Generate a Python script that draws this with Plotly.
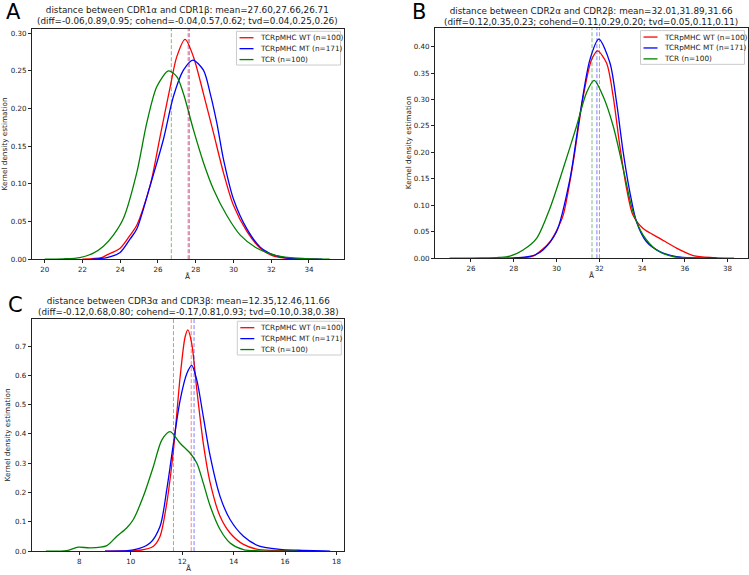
import plotly.graph_objects as go

W, H = 749, 575

# ---------------- data ----------------
series_names = ["TCRpMHC WT (n=100)", "TCRpMHC MT (n=171)", "TCR (n=100)"]
series_colors = ["#ff0000", "#0000ff", "#008000"]

# Panel A: CDR1
a_wt_x = [22.0, 23.0, 23.3, 24.0, 24.53, 24.88, 25.59, 26.12, 26.65, 27.0, 27.44, 27.88, 28.41, 28.94, 29.47, 30.0, 30.72, 31.42, 32.13, 33.0, 34.5]
a_wt_y = [0.0, 0.002, 0.0057, 0.0145, 0.032, 0.045, 0.098, 0.1635, 0.229, 0.269, 0.292, 0.269, 0.22, 0.168, 0.115, 0.0715, 0.0365, 0.0145, 0.004, 0.001, 0.0]
a_mt_x = [22.5, 23.3, 24.0, 24.53, 24.88, 25.59, 26.29, 26.82, 27.35, 27.85, 28.41, 28.77, 29.12, 29.47, 30.0, 30.72, 31.42, 32.13, 33.0, 34.7]
a_mt_y = [0.0, 0.002, 0.009, 0.027, 0.04, 0.098, 0.159, 0.216, 0.251, 0.2645, 0.251, 0.22, 0.181, 0.133, 0.08, 0.04, 0.016, 0.0057, 0.001, 0.0]
a_tcr_x = [20.0, 21.0, 21.87, 22.58, 23.1, 23.64, 24.17, 24.88, 25.41, 25.94, 26.56, 27.0, 27.35, 27.88, 28.41, 28.94, 29.65, 30.36, 31.25, 32.13, 33.0, 34.0, 35.1]
a_tcr_y = [0.0, 0.0005, 0.0022, 0.008, 0.0167, 0.032, 0.054, 0.115, 0.181, 0.229, 0.25, 0.2425, 0.22, 0.172, 0.1285, 0.093, 0.058, 0.032, 0.0145, 0.0057, 0.002, 0.0005, 0.0]
a_means = [27.60, 27.66, 26.71]

# Panel B: CDR2
b_wt_x = [28.0, 28.9, 29.22, 29.69, 30.0, 30.31, 30.78, 31.25, 31.64, 31.92, 32.34, 32.65, 32.96, 33.28, 33.58, 34.05, 34.83, 35.61, 36.39, 37.3, 38.3]
b_wt_y = [0.0, 0.004, 0.0125, 0.031, 0.052, 0.081, 0.181, 0.306, 0.375, 0.392, 0.369, 0.306, 0.2125, 0.131, 0.081, 0.056, 0.0375, 0.019, 0.005, 0.001, 0.0]
b_mt_x = [27.5, 28.5, 29.0, 29.38, 30.0, 30.63, 31.09, 31.56, 31.98, 32.5, 32.81, 33.12, 33.43, 33.74, 34.21, 34.83, 35.6, 36.5, 37.5]
b_mt_y = [0.0, 0.002, 0.006, 0.016, 0.05, 0.15, 0.27, 0.375, 0.414, 0.369, 0.294, 0.2, 0.125, 0.069, 0.031, 0.0125, 0.003, 0.0005, 0.0]
b_tcr_x = [25.0, 26.5, 27.3, 27.82, 28.44, 29.07, 29.69, 30.31, 30.94, 31.4, 31.76, 32.18, 32.65, 33.12, 33.58, 34.05, 34.68, 35.45, 36.3, 37.0]
b_tcr_y = [0.0, 0.0005, 0.0015, 0.004, 0.0156, 0.0375, 0.094, 0.169, 0.25, 0.3125, 0.336, 0.306, 0.25, 0.169, 0.0875, 0.0437, 0.0156, 0.003, 0.0005, 0.0]
b_means = [32.01, 31.89, 31.66]

# Panel C: CDR3
c_wt_x = [9.0, 10.36, 10.88, 11.14, 11.4, 11.66, 11.92, 12.11, 12.22, 12.37, 12.57, 12.82, 13.09, 13.47, 13.86, 14.38, 15.0, 16.0, 17.0]
c_wt_y = [0.0, 0.003, 0.017, 0.051, 0.164, 0.345, 0.595, 0.73, 0.755, 0.708, 0.549, 0.368, 0.232, 0.119, 0.062, 0.023, 0.005, 0.002, 0.0]
c_mt_x = [9.0, 10.1, 10.75, 11.14, 11.4, 11.66, 11.92, 12.18, 12.37, 12.57, 12.82, 13.09, 13.47, 13.86, 14.38, 15.0, 15.8, 16.5, 17.75]
c_mt_y = [0.0, 0.004, 0.028, 0.085, 0.21, 0.368, 0.515, 0.606, 0.634, 0.583, 0.459, 0.323, 0.187, 0.108, 0.051, 0.017, 0.006, 0.003, 0.0]
c_tcr_x = [6.7, 7.51, 7.96, 8.42, 9.07, 9.46, 9.84, 10.1, 10.49, 10.88, 11.21, 11.53, 11.92, 12.31, 12.57, 12.82, 13.09, 13.47, 13.86, 14.38, 15.0, 16.5]
c_tcr_y = [0.0, 0.002, 0.0136, 0.011, 0.019, 0.051, 0.079, 0.108, 0.187, 0.289, 0.38, 0.408, 0.368, 0.334, 0.30, 0.232, 0.153, 0.074, 0.028, 0.005, 0.001, 0.0]
c_means = [12.35, 12.46, 11.66]

panel_letters = ["A", "B", "C"]
panel_titles = [
    "distance between CDR1α and CDR1β: mean=27.60,27.66,26.71<br>(diff=-0.06,0.89,0.95; cohend=-0.04,0.57,0.62; tvd=0.04,0.25,0.26)",
    "distance between CDR2α and CDR2β: mean=32.01,31.89,31.66<br>(diff=0.12,0.35,0.23; cohend=0.11,0.29,0.20; tvd=0.05,0.11,0.11)",
    "distance between CDR3α and CDR3β: mean=12.35,12.46,11.66<br>(diff=-0.12,0.68,0.80; cohend=-0.17,0.81,0.93; tvd=0.10,0.38,0.38)",
]
x_label = "Å"
y_label = "Kernel density estimation"

a_xticks = [20, 22, 24, 26, 28, 30, 32, 34]
b_xticks = [26, 28, 30, 32, 34, 36, 38]
c_xticks = [8, 10, 12, 14, 16, 18]
a_yticks = [0.0, 0.05, 0.10, 0.15, 0.20, 0.25, 0.30]
b_yticks = [0.0, 0.05, 0.10, 0.15, 0.20, 0.25, 0.30, 0.35, 0.40]
c_yticks = [0.0, 0.1, 0.2, 0.3, 0.4, 0.5, 0.6, 0.7]

# ---------------- layout geometry (pixels) ----------------
panels = [
    dict(box=(32, 343.5, 29, 261), xr=[19.33, 35.83], yr=[0, 0.306], xt=a_xticks, yt=a_yticks, yfmt=".2f",
         curves=[(a_wt_x, a_wt_y), (a_mt_x, a_mt_y), (a_tcr_x, a_tcr_y)], means=a_means,
         letter_pos=(13.5, 12), title_y=16, ylab_x=4.5),
    dict(box=(435, 747.5, 28.3, 260), xr=[24.32, 38.93], yr=[0, 0.435], xt=b_xticks, yt=b_yticks, yfmt=".2f",
         curves=[(b_wt_x, b_wt_y), (b_mt_x, b_mt_y), (b_tcr_x, b_tcr_y)], means=b_means,
         letter_pos=(419, 12), title_y=16.5, ylab_x=408),
    dict(box=(31.7, 344.3, 321, 555), xr=[6.15, 18.3], yr=[0, 0.793], xt=c_xticks, yt=c_yticks, yfmt=".1f",
         curves=[(c_wt_x, c_wt_y), (c_mt_x, c_mt_y), (c_tcr_x, c_tcr_y)], means=c_means,
         letter_pos=(15, 307), title_y=309, ylab_x=7.5),
]

def fx(p):
    return p / W

def fy(p):
    return 1 - p / H

FONT = "DejaVu Sans"
TXT = "#1a1a1a"
F_TITLE = 8.8
F_TICK = 7.1
F_LEG = 7.3
F_LAB = 7.3

fig = go.Figure()
layout = dict(width=W, height=H, margin=dict(l=0, r=0, t=0, b=0),
              paper_bgcolor="white", plot_bgcolor="white", showlegend=False,
              font=dict(family=FONT, color=TXT, size=7))
shapes = []
annotations = []

for i, p in enumerate(panels):
    n = "" if i == 0 else str(i + 1)
    xa, ya = "x" + n, "y" + n
    x0, x1, y0, y1 = p["box"]
    axis_common = dict(showline=True, mirror=True, linecolor="#222", linewidth=1,
                       ticks="outside", ticklen=3, tickwidth=1, tickcolor="#222",
                       showgrid=False, zeroline=False,
                       tickfont=dict(family=FONT, size=F_TICK, color=TXT))
    layout["xaxis" + n] = dict(domain=[fx(x0), fx(x1)], range=p["xr"], anchor=ya,
                                tickmode="array", tickvals=p["xt"], ticktext=[str(t) for t in p["xt"]],
                                **axis_common)
    layout["yaxis" + n] = dict(domain=[fy(y1), fy(y0)], range=p["yr"], anchor=xa,
                                tickmode="array", tickvals=p["yt"],
                                ticktext=[format(t, p["yfmt"]) for t in p["yt"]],
                                **axis_common)
    # curves
    for (cx, cy), col in zip(p["curves"], series_colors):
        fig.add_trace(go.Scatter(x=cx, y=cy, mode="lines", xaxis=xa, yaxis=ya,
                                 line=dict(color=col, width=1.3, shape="spline", smoothing=0.8),
                                 hoverinfo="skip"))
    # mean lines
    for m, col in zip(p["means"], series_colors):
        shapes.append(dict(type="line", xref=xa, yref=ya + " domain", x0=m, x1=m, y0=0, y1=1,
                           line=dict(color=col, width=1, dash="4px,2px"), opacity=0.5, layer="above"))
    # legend
    lb_r = x1 - 3
    lb_l = lb_r - 104
    lb_t = y0 + 2.5
    lb_b = lb_t + 34
    shapes.append(dict(type="rect", xref="paper", yref="paper", x0=fx(lb_l), x1=fx(lb_r),
                       y0=fy(lb_b), y1=fy(lb_t), line=dict(color="#cccccc", width=1),
                       fillcolor="rgba(255,255,255,0.8)", layer="above"))
    for k, (name, col) in enumerate(zip(series_names, series_colors)):
        ry = lb_t + 6.5 + 11 * k
        shapes.append(dict(type="line", xref="paper", yref="paper", x0=fx(lb_l + 3), x1=fx(lb_l + 17),
                           y0=fy(ry), y1=fy(ry), line=dict(color=col, width=1.3), layer="above"))
        annotations.append(dict(xref="paper", yref="paper", x=fx(lb_l + 21), y=fy(ry), text=name,
                                showarrow=False, xanchor="left", yanchor="middle",
                                font=dict(family=FONT, size=F_LEG, color=TXT)))
    # title
    annotations.append(dict(xref="paper", yref="paper", x=fx((x0 + x1) / 2), y=fy(p["title_y"]),
                            text=panel_titles[i], showarrow=False, xanchor="center", yanchor="middle",
                            font=dict(family=FONT, size=F_TITLE, color=TXT)))
    # panel letter
    lx, ly = p["letter_pos"]
    annotations.append(dict(xref="paper", yref="paper", x=fx(lx), y=fy(ly), text=panel_letters[i],
                            showarrow=False, xanchor="center", yanchor="middle",
                            font=dict(family=FONT, size=21, color="#000")))
    # axis labels
    annotations.append(dict(xref="paper", yref="paper", x=fx((x0 + x1) / 2), y=fy(y1 + 17.5),
                            text=x_label, showarrow=False, xanchor="center", yanchor="middle",
                            font=dict(family=FONT, size=F_LAB, color=TXT)))
    annotations.append(dict(xref="paper", yref="paper", x=fx(p["ylab_x"]), y=fy((y0 + y1) / 2),
                            text=y_label, showarrow=False, xanchor="center", yanchor="middle",
                            textangle=-90, font=dict(family=FONT, size=F_LAB, color=TXT)))

layout["shapes"] = shapes
layout["annotations"] = annotations
fig.update_layout(**layout)
fig.write_html("out.html", config={"displayModeBar": False},
               post_script="document.body.style.margin='0';document.body.style.overflow='hidden';")
